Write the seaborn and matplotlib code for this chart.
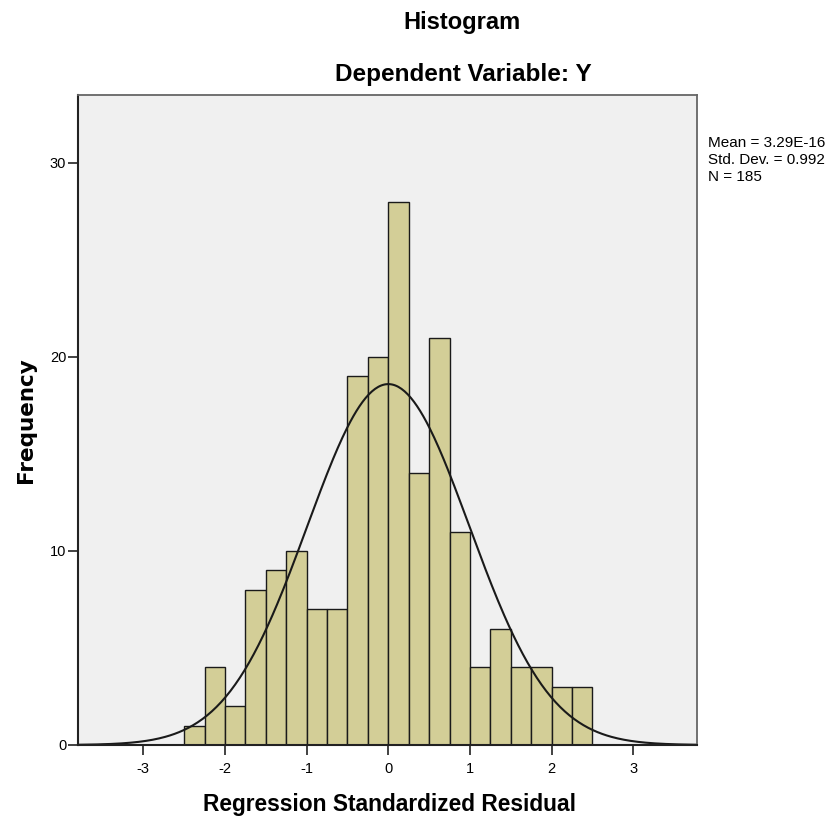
import numpy as np
import pandas as pd
import matplotlib
matplotlib.use("Agg")
import matplotlib.pyplot as plt
import seaborn as sns

# Data
bin_start = -2.5
bin_width = 0.25
counts = [1, 4, 2, 8, 9, 10, 7, 7, 19, 20, 28, 14, 21, 11, 4, 6, 4, 4, 3, 3]
mean_val = 3.29e-16
std_val = 0.992
n_val = 185
x_ticks = [-3, -2, -1, 0, 1, 2, 3]
y_ticks = [0, 10, 20, 30]

edges = [float(v) for v in bin_start + bin_width * np.arange(len(counts) + 1)]
centers = [(edges[i] + edges[i + 1]) / 2 for i in range(len(counts))]
df = pd.DataFrame({"x": centers, "w": counts})

sns.set_style("white")
plt.rcParams["font.family"] = ["Liberation Sans", "DejaVu Sans"]
plt.rcParams["text.color"] = "black"
plt.rcParams["xtick.color"] = "black"
plt.rcParams["ytick.color"] = "black"

fig = plt.figure(figsize=(8.37, 8.22), dpi=100)
ax = fig.add_axes([0.0932, 0.0937, 0.7395, 0.7907])
ax.set_facecolor("#f0f0f0")

sns.histplot(data=df, x="x", weights="w", bins=edges, stat="count",
             color="#d3ce97", alpha=1.0, edgecolor="#1a1a1a", linewidth=1.0, ax=ax)

xs = np.linspace(-3.8, 3.8, 400)
ys = n_val * bin_width * np.exp(-0.5 * ((xs - mean_val) / std_val) ** 2) / (std_val * np.sqrt(2 * np.pi))
sns.lineplot(x=xs, y=ys, color="#1a1a1a", linewidth=1.5, ax=ax)

ax.set_xlim(-3.8, 3.78)
ax.set_ylim(0, 33.5)
ax.set_xticks(x_ticks)
ax.set_yticks(y_ticks)
ax.set_xticklabels([str(t) for t in x_ticks], fontsize=10.5)
ax.set_yticklabels([str(t) for t in y_ticks], fontsize=10.5)
ax.tick_params(axis="both", direction="out", length=7, width=1.3, color="#333333",
               labelcolor="black", bottom=True, left=True)
ax.tick_params(axis="x", pad=5)
ax.tick_params(axis="y", pad=1.5)
ax.set_xlabel("")
ax.set_ylabel("")
for side in ["left", "bottom"]:
    ax.spines[side].set_color("#222222")
    ax.spines[side].set_linewidth(1.5)
for side in ["top", "right"]:
    ax.spines[side].set_color("#666666")
    ax.spines[side].set_linewidth(1.3)

fig.text(462 / 837, 1 - 23 / 822, "Histogram", ha="center", va="center",
         fontsize=17, fontweight="bold", color="black")
fig.text(463 / 837, 1 - 75 / 822, "Dependent Variable: Y", ha="center", va="center",
         fontsize=17.5, fontweight="bold", color="black")
fig.text(390 / 837, 1 - 804 / 822, "Regression Standardized Residual", ha="center", va="center",
         fontsize=16.4, fontweight="bold", color="black")
fig.text(26 / 837, 1 - 420 / 822, "Frequency", ha="center", va="center", rotation=90,
         fontsize=15.5, fontweight="bold", family=["DejaVu Sans"], color="black")
fig.text(708 / 837, 1 - 160 / 822,
         f"Mean = 3.29E-16\nStd. Dev. = {std_val}\nN = {n_val}",
         ha="left", va="center", fontsize=11, linespacing=1.25, color="black")

fig.savefig("out.png", dpi=100, facecolor="white")
